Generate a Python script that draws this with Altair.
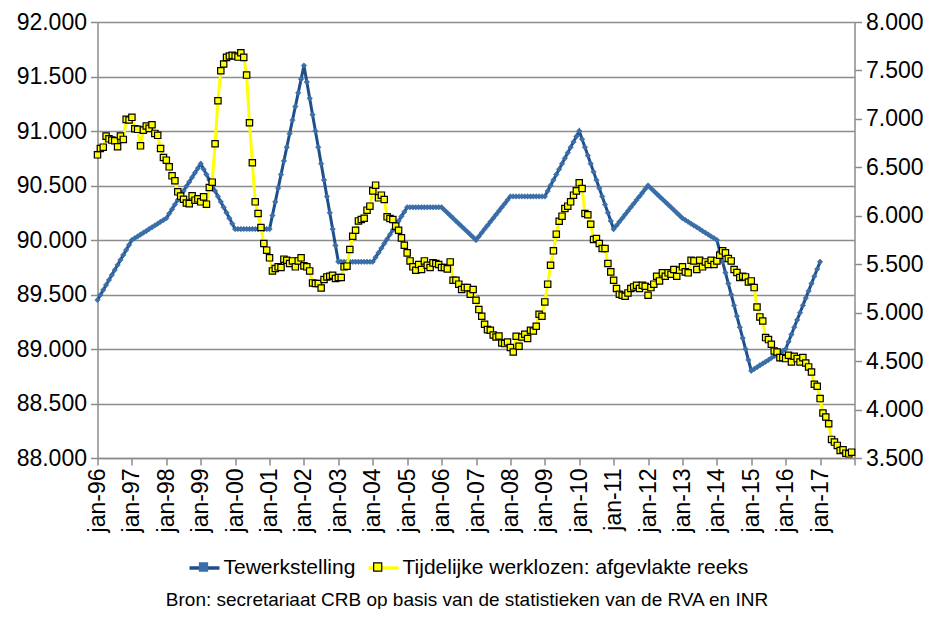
import altair as alt
import pandas as pd

SER_A = "Tewerkstelling"
SER_B = "Tijdelijke werklozen: afgevlakte reeks"
SOURCE = "Bron: secretariaat CRB op basis van de statistieken van de RVA en INR"

# month index 0 = jan-96
tewerkstelling = [
    89450, 89496, 89542, 89588, 89633, 89679, 89725, 89771, 89817, 89863, 89908, 89954,
    90000, 90017, 90033, 90050, 90067, 90083, 90100, 90117, 90133, 90150, 90167, 90183,
    90200, 90242, 90283, 90325, 90367, 90408, 90450, 90492, 90533, 90575, 90617, 90658,
    90700, 90650, 90600, 90550, 90500, 90450, 90400, 90350, 90300, 90250, 90200, 90150,
    90100, 90100, 90100, 90100, 90100, 90100, 90100, 90100, 90100, 90100, 90100, 90100,
    90100, 90225, 90350, 90475, 90600, 90725, 90850, 90975, 91100, 91225, 91350, 91475,
    91600, 91450, 91300, 91150, 91000, 90850, 90700, 90550, 90400, 90250, 90100, 89950,
    89800, 89800, 89800, 89800, 89800, 89800, 89800, 89800, 89800, 89800, 89800, 89800,
    89800, 89842, 89883, 89925, 89967, 90008, 90050, 90092, 90133, 90175, 90217, 90258,
    90300, 90300, 90300, 90300, 90300, 90300, 90300, 90300, 90300, 90300, 90300, 90300,
    90300, 90275, 90250, 90225, 90200, 90175, 90150, 90125, 90100, 90075, 90050, 90025,
    90000, 90033, 90067, 90100, 90133, 90167, 90200, 90233, 90267, 90300, 90333, 90367,
    90400, 90400, 90400, 90400, 90400, 90400, 90400, 90400, 90400, 90400, 90400, 90400,
    90400, 90450, 90500, 90550, 90600, 90650, 90700, 90750, 90800, 90850, 90900, 90950,
    91000, 90925, 90850, 90775, 90700, 90625, 90550, 90475, 90400, 90325, 90250, 90175,
    90100, 90133, 90167, 90200, 90233, 90267, 90300, 90333, 90367, 90400, 90433, 90467,
    90500, 90475, 90450, 90425, 90400, 90375, 90350, 90325, 90300, 90275, 90250, 90225,
    90200, 90183, 90167, 90150, 90133, 90117, 90100, 90083, 90067, 90050, 90033, 90017,
    90000, 89900, 89800, 89700, 89600, 89500, 89400, 89300, 89200, 89100, 89000, 88900,
    88800, 88817, 88833, 88850, 88867, 88883, 88900, 88917, 88933, 88950, 88967, 88983,
    89000, 89067, 89133, 89200, 89267, 89333, 89400, 89467, 89533, 89600, 89667, 89733,
    89800,
]

tijdelijke = [
    6629, 6695, 6708, 6822, 6794, 6781, 6774, 6712, 6822, 6788, 6995, 6988,
    7016, 6898, 6892, 6722, 6884, 6926, 6902, 6939, 6850, 6830, 6695, 6602,
    6574, 6505, 6412, 6361, 6247, 6203, 6170, 6132, 6125, 6206, 6161, 6175,
    6144, 6195, 6120, 6292, 6347, 6743, 7187, 7497, 7566, 7635, 7649, 7656,
    7649, 7638, 7683, 7635, 7452, 6960, 6547, 6144, 6024, 5879, 5714, 5645,
    5566, 5431, 5456, 5473, 5466, 5552, 5541, 5507, 5534, 5473, 5534, 5566,
    5483, 5473, 5431, 5307, 5301, 5301, 5255, 5342, 5369, 5376, 5386, 5352,
    5363, 5363, 5473, 5480, 5652, 5789, 5851, 5947, 5962, 5975, 6058, 6099,
    6257, 6316, 6185, 6213, 6168, 5989, 5972, 5962, 5893, 5851, 5772, 5696,
    5617, 5534, 5473, 5438, 5497, 5445, 5534, 5490, 5466, 5514, 5507, 5497,
    5466, 5466, 5452, 5524, 5335, 5335, 5294, 5239, 5259, 5259, 5190, 5239,
    5128, 5032, 4963, 4880, 4825, 4818, 4770, 4749, 4759, 4687, 4681, 4697,
    4640, 4594, 4756, 4653, 4749, 4777, 4733, 4818, 4811, 4860, 4984, 4963,
    5111, 5294, 5490, 5638, 5810, 5944, 5996, 6075, 6099, 6144, 6213, 6257,
    6340, 6282, 6024, 6010, 5913, 5755, 5765, 5714, 5662, 5662, 5507, 5421,
    5335, 5249, 5190, 5180, 5170, 5204, 5249, 5266, 5283, 5249, 5283, 5273,
    5180, 5259, 5294, 5376, 5328, 5411, 5376, 5411, 5397, 5445, 5376, 5438,
    5473, 5421, 5411, 5541, 5534, 5445, 5541, 5473, 5524, 5497, 5541, 5497,
    5534, 5593, 5638, 5617, 5559, 5534, 5445, 5414, 5363, 5376, 5369, 5317,
    5328, 5259, 5059, 4956, 4914, 4743, 4722, 4674, 4605, 4594, 4536, 4536,
    4526, 4560, 4491, 4550, 4526, 4491, 4536, 4481, 4440, 4388, 4261, 4240,
    4113, 3964, 3923, 3854, 3692, 3664, 3630, 3578, 3585, 3550, 3543, 3560,
]

year_ticks = list(range(0, 265, 12))
left_ticks = list(range(88000, 92001, 500))
right_ticks = list(range(3500, 8001, 500))

df_a = pd.DataFrame({"m": list(range(len(tewerkstelling))), "v": tewerkstelling, "series": SER_A})
df_b = pd.DataFrame({"m": list(range(len(tijdelijke))), "v": tijdelijke, "series": SER_B})

FONT = "Liberation Sans"
GRAY = "#8c8c8c"
BLUE_LINE = "#1F4E8A"
BLUE_PT = "#3A6EA8"
YEL = "#FFFF00"
LEG_FS = 21

dot_num = "replace(format(datum.value, ',d'), ',', '.')"
year_lbl = ("datum.value >= 264 ? '' : 'jan-' + "
            "((((96 + datum.value / 12) % 100) < 10) ? '0' : '') + ((96 + datum.value / 12) % 100)")

x_enc = alt.X(
    "m:Q",
    scale=alt.Scale(domain=[0, 264], nice=False, zero=False),
    axis=alt.Axis(
        values=year_ticks, labelExpr=year_lbl, labelAngle=270, labelAlign="right",
        labelBaseline="middle", labelFontSize=23, labelPadding=3, tickSize=7,
        grid=False, title=SOURCE, titleFont=FONT, titleFontSize=19,
        titleFontWeight="normal", titleX=369, titleY=147, titleAnchor="middle",
        titleAlign="center", titleBaseline="alphabetic",
    ),
)
y_left = alt.Y(
    "v:Q",
    scale=alt.Scale(domain=[88000, 92000], nice=False, zero=False),
    axis=alt.Axis(orient="left", values=left_ticks, labelExpr=dot_num, grid=True,
                  labelFontSize=23, tickSize=7, labelPadding=4, title=None),
)
y_right = alt.Y(
    "v:Q",
    scale=alt.Scale(domain=[3500, 8000], nice=False, zero=False),
    axis=alt.Axis(orient="right", values=right_ticks, labelExpr=dot_num, grid=False,
                  labelFontSize=23, tickSize=7, labelPadding=4, title=None),
)

LEG_COMMON = dict(
    title=None, orient="none", legendX=90, legendY=529, direction="horizontal",
    columns=2, symbolSize=900, labelFont=FONT, labelFontSize=LEG_FS, labelOffset=2,
    labelLimit=0,
)
line_legend = alt.Legend(symbolType="stroke", symbolStrokeWidth=3.5, columnPadding=6, **LEG_COMMON)
# marker legend drawn over the line legend: no labels, padding replaces the first label's width
first_label_w = 6.39 * LEG_FS
pt_legend = alt.Legend(symbolType="M-0.27,-0.27H0.27V0.27H-0.27Z", symbolStrokeWidth=1.2,
                       labelExpr="''", columnPadding=first_label_w + 6, **LEG_COMMON)

color_enc = alt.Color("series:N", scale=alt.Scale(domain=[SER_A, SER_B], range=[BLUE_LINE, YEL]),
                      legend=line_legend)
fill_enc = alt.Fill("series:N", scale=alt.Scale(range=[BLUE_PT, YEL]), legend=pt_legend)
stroke_enc = alt.Stroke("series:N", scale=alt.Scale(range=[BLUE_PT, "black"]), legend=pt_legend)

blue_line = alt.Chart(df_a).mark_line(strokeWidth=3).encode(x=x_enc, y=y_left, color=color_enc)
blue_pts = alt.Chart(df_a).mark_point(shape="diamond", filled=True, size=30, strokeWidth=0.6,
                                      opacity=1).encode(x=x_enc, y=y_left, fill=fill_enc, stroke=stroke_enc)
yel_line = alt.Chart(df_b).mark_line(strokeWidth=3).encode(x=x_enc, y=y_right, color=color_enc)
yel_pts = alt.Chart(df_b).mark_point(shape="square", filled=True, size=40, strokeWidth=1.2,
                                     opacity=1).encode(x=x_enc, y=y_right, fill=fill_enc, stroke=stroke_enc)

left = alt.layer(blue_line, blue_pts)
right = alt.layer(yel_line, yel_pts)

chart = (
    alt.layer(left, right)
    .resolve_scale(y="independent")
    .properties(
        width=757, height=436,
        autosize=alt.AutoSizeParams(type="none"),
        padding={"left": 89.5, "top": 14, "right": 68, "bottom": 151},
        background="white",
    )
    .configure_view(strokeWidth=0)
    .configure_axis(
        domainColor=GRAY, domainWidth=1.5, tickColor=GRAY, tickWidth=1.5,
        gridColor=GRAY, gridWidth=1.5, labelFont=FONT, labelColor="black",
        titleColor="black",
    )
    .configure_legend(labelColor="black")
)

chart.save("out.html", embed_options={"renderer": "svg", "actions": False})
